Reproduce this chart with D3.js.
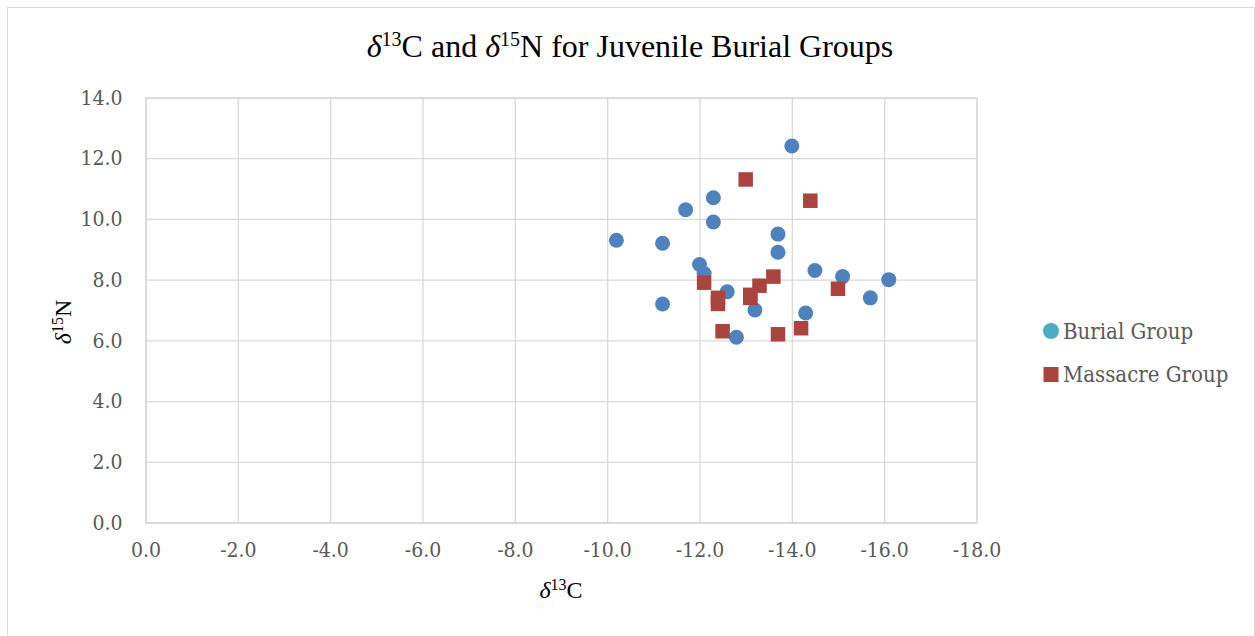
<!DOCTYPE html>
<html>
<head>
<meta charset="utf-8">
<script src="https://cdn.jsdelivr.net/npm/d3@7"></script>
<style>
  body { margin: 0; background: #fff; }
  svg { display: block; }
</style>
</head>
<body>
<div id="chart"></div>
<script>
// data
const burialC = [-14.0, -12.3, -11.7, -12.3, -10.2, -11.2, -13.7, -13.7, -12.0, -12.1, -14.5, -15.1, -16.1, -15.7, -11.2, -12.6, -13.2, -14.3, -12.8];
const burialN = [12.4, 10.7, 10.3, 9.9, 9.3, 9.2, 9.5, 8.9, 8.5, 8.2, 8.3, 8.1, 8.0, 7.4, 7.2, 7.6, 7.0, 6.9, 6.1];
const massacreC = [-13.0, -14.4, -12.1, -12.4, -12.4, -13.3, -13.6, -13.1, -13.1, -15.0, -12.5, -13.7, -14.2];
const massacreN = [11.3, 10.6, 7.9, 7.4, 7.2, 7.8, 8.1, 7.5, 7.4, 7.7, 6.3, 6.2, 6.4];
const xTicks = [0, -2, -4, -6, -8, -10, -12, -14, -16, -18];
const yTicks = [0, 2, 4, 6, 8, 10, 12, 14];
const seriesNames = ["Burial Group", "Massacre Group"];

var width = 1255, height = 636;
var margin = {top: 97.5, right: 278.5, bottom: 113.5, left: 145.5};

var svg = d3.select("#chart").append("svg")
  .attr("width", width)
  .attr("height", height);

// outer frame
svg.append("rect")
  .attr("x", 7.5).attr("y", 7.5)
  .attr("width", 1247).attr("height", 640)
  .attr("fill", "none")
  .attr("stroke", "#d9d9d9");

var x = d3.scaleLinear().domain([0, -18]).range([margin.left, width - margin.right]);
var y = d3.scaleLinear().domain([0, 14]).range([height - margin.bottom, margin.top]);

var grid = "#d9d9d9";
var tickColor = "#595959";
var tickFont = "'DejaVu Serif Condensed', 'DejaVu Serif', serif";
var fmt = d => d.toFixed(1);

// vertical gridlines + x axis
svg.append("g")
  .attr("transform", "translate(0," + (height - margin.bottom) + ")")
  .call(d3.axisBottom(x).tickValues(xTicks).tickSize(-(height - margin.top - margin.bottom)).tickFormat(fmt).tickPadding(27))
  .call(g => g.select(".domain").attr("stroke", grid).attr("stroke-width", 1.3))
  .call(g => g.selectAll(".tick line").attr("stroke", grid).attr("stroke-width", 1.3))
  .call(g => g.selectAll(".tick text").attr("fill", tickColor)
    .style("font-family", tickFont).style("font-stretch", "condensed").style("font-size", "21px").attr("dy", "0.35em"));

// horizontal gridlines + y axis
svg.append("g")
  .attr("transform", "translate(" + margin.left + ",0)")
  .call(d3.axisLeft(y).tickValues(yTicks).tickSize(-(width - margin.left - margin.right)).tickFormat(fmt).tickPadding(23))
  .call(g => g.select(".domain").attr("stroke", grid).attr("stroke-width", 1.3))
  .call(g => g.selectAll(".tick line").attr("stroke", grid).attr("stroke-width", 1.3))
  .call(g => g.selectAll(".tick text").attr("fill", tickColor)
    .style("font-family", tickFont).style("font-stretch", "condensed").style("font-size", "21px"));

// burial group points
svg.append("g").selectAll("circle")
  .data(burialC)
  .enter().append("circle")
  .attr("cx", d => x(d))
  .attr("cy", (d, i) => y(burialN[i]))
  .attr("r", 7.5)
  .attr("fill", "#4f81bd");

// massacre group points
var sq = 14.5;
svg.append("g").selectAll("rect")
  .data(massacreC)
  .enter().append("rect")
  .attr("x", d => x(d) - sq / 2)
  .attr("y", (d, i) => y(massacreN[i]) - sq / 2)
  .attr("width", sq)
  .attr("height", sq)
  .attr("fill", "#a9443f");

// title
var serif = "'Liberation Serif', 'Times New Roman', serif";
var title = svg.append("text")
  .attr("x", 630).attr("y", 57)
  .attr("text-anchor", "middle")
  .style("font-family", serif)
  .style("font-size", "32px")
  .attr("fill", "#000");
title.append("tspan").style("font-style", "italic").text("δ");
title.append("tspan").attr("dy", -11).style("font-size", "20px").text("13");
title.append("tspan").attr("dy", 11).text("C and ");
title.append("tspan").style("font-style", "italic").text("δ");
title.append("tspan").attr("dy", -11).style("font-size", "20px").text("15");
title.append("tspan").attr("dy", 11).text("N for Juvenile Burial Groups");

// x axis title
var xt = svg.append("text")
  .attr("x", 561).attr("y", 598)
  .attr("text-anchor", "middle")
  .style("font-family", serif)
  .style("font-size", "24px");
xt.append("tspan").style("font-style", "italic").text("δ");
xt.append("tspan").attr("dy", -8).style("font-size", "16px").text("13");
xt.append("tspan").attr("dy", 8).text("C");

// y axis title
var yt = svg.append("text")
  .attr("transform", "translate(71,322) rotate(-90)")
  .attr("text-anchor", "middle")
  .style("font-family", serif)
  .style("font-size", "24px");
yt.append("tspan").style("font-style", "italic").text("δ");
yt.append("tspan").attr("dy", -8).style("font-size", "16px").text("15");
yt.append("tspan").attr("dy", 8).text("N");

// legend
var legend = svg.append("g").selectAll("g")
  .data(seriesNames)
  .enter().append("g")
  .attr("transform", (d, i) => "translate(1051," + (331 + i * 43.5) + ")");

legend.filter((d, i) => i == 0).append("circle")
  .attr("r", 8).attr("fill", "#4bacc6");
legend.filter((d, i) => i == 1).append("rect")
  .attr("x", -7.5).attr("y", -7.5).attr("width", 15).attr("height", 15)
  .attr("fill", "#a9443f");

legend.append("text")
  .attr("x", 12).attr("dy", "0.35em")
  .attr("fill", tickColor)
  .style("font-family", tickFont)
  .style("font-stretch", "condensed")
  .style("font-size", "22px")
  .text(d => d);
</script>
</body>
</html>
